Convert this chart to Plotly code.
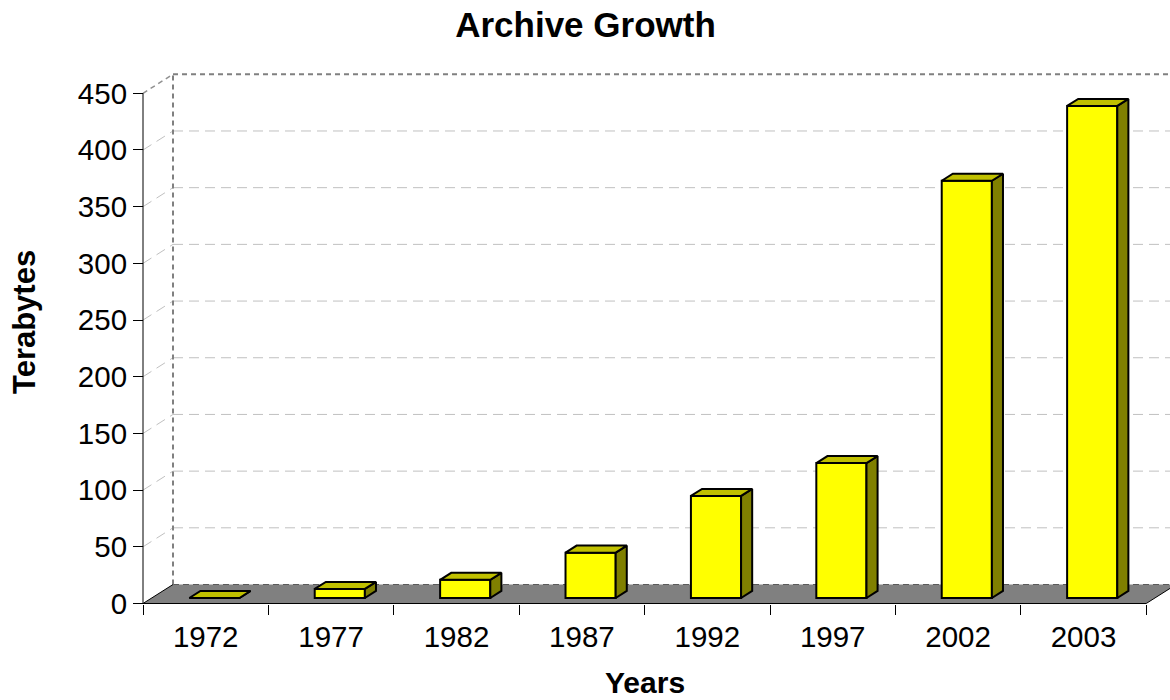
import plotly.graph_objects as go

# ---------------- data ----------------
years = ["1972", "1977", "1982", "1987", "1992", "1997", "2002", "2003"]
terabytes = [0, 8, 16, 40, 90, 119, 368, 434]
y_ticks = [0, 50, 100, 150, 200, 250, 300, 350, 400, 450]

# ---------------- geometry ----------------
W, H = 1170, 700
ML, MR, MT, MB = 130, 0, 60, 80
PW, PH = W - ML - MR, H - MT - MB
PX_CAT, PX_UNIT = 125.4, 1.1338          # pixels per category / per terabyte
X0_PX, Y0_PX = 143, 603.5                # pixel position of the data origin
xmin = -(X0_PX - ML) / PX_CAT
xmax = xmin + PW / PX_CAT
ymin = -((H - MB) - Y0_PX) / PX_UNIT
ymax = ymin + PH / PX_UNIT
DX, DY = 30 / PX_CAT, 19 / PX_UNIT       # full depth of the floor in data units
D0, D1 = 0.29, 0.66                      # bar depth span (fraction of floor depth)
GAP, BW = 0.3, 0.4

n = len(years)
top_v = y_ticks[-1]
FONT = "Liberation Sans, Arial, sans-serif"


def paper_x(px):
    return (px - ML) / PW


def paper_y(py):
    return ((H - MB) - py) / PH


shapes = []
# floor
shapes.append(dict(type="path", xref="x", yref="y", layer="below",
                   path=f"M 0,0 L {n},0 L {n+DX},{DY} L {DX},{DY} Z",
                   fillcolor="#808080", line=dict(width=0)))
# floor back edge
shapes.append(dict(type="line", xref="x", yref="y", layer="below",
                   x0=DX, y0=DY, x1=n + DX, y1=DY,
                   line=dict(color="#5a5a5a", width=1, dash="6px,4px")))
# gridlines on back wall + left wall diagonals
for v in y_ticks[1:-1]:
    shapes.append(dict(type="line", xref="x", yref="y", layer="below",
                       x0=DX, y0=v + DY, x1=n + DX, y1=v + DY,
                       line=dict(color="#c0c0c0", width=1, dash="10px,6px")))
    shapes.append(dict(type="line", xref="x", yref="y", layer="below",
                       x0=0, y0=v, x1=DX, y1=v + DY,
                       line=dict(color="#c0c0c0", width=1, dash="10px,6px")))
# wall edges
shapes.append(dict(type="line", xref="x", yref="y", layer="below",
                   x0=DX, y0=top_v + DY, x1=n + DX, y1=top_v + DY,
                   line=dict(color="#808080", width=2, dash="5px,4px")))
shapes.append(dict(type="line", xref="x", yref="y", layer="below",
                   x0=DX, y0=DY, x1=DX, y1=top_v + DY,
                   line=dict(color="#808080", width=2, dash="5px,4px")))
shapes.append(dict(type="line", xref="x", yref="y", layer="below",
                   x0=0, y0=top_v, x1=DX, y1=top_v + DY,
                   line=dict(color="#909090", width=1.5, dash="5px,4px")))
# front axis lines and floor side edges
shapes.append(dict(type="line", xref="x", yref="y", layer="below",
                   x0=0, y0=0, x1=0, y1=top_v, line=dict(color="black", width=1)))
shapes.append(dict(type="line", xref="x", yref="y", layer="below",
                   x0=0, y0=0, x1=n, y1=0, line=dict(color="black", width=1)))
shapes.append(dict(type="line", xref="x", yref="y", layer="below",
                   x0=0, y0=0, x1=DX, y1=DY, line=dict(color="black", width=1)))
shapes.append(dict(type="line", xref="x", yref="y", layer="below",
                   x0=n, y0=0, x1=n + DX, y1=DY, line=dict(color="black", width=1)))

# ---------------- bars ----------------
fx0 = [i + GAP + D0 * DX for i in range(n)]
base = D0 * DY
ddx, ddy = (D1 - D0) * DX, (D1 - D0) * DY

fig = go.Figure()
fig.add_trace(go.Bar(
    x=[x + BW / 2 for x in fx0], y=terabytes, base=base, width=BW,
    marker=dict(color="#ffff00", line=dict(color="black", width=2)),
    hoverinfo="skip", showlegend=False))

top_x, top_y, side_x, side_y = [], [], [], []
for x0, v in zip(fx0, terabytes):
    x1 = x0 + BW
    yt = base + v
    top_x += [x0, x1, x1 + ddx, x0 + ddx, x0, None]
    top_y += [yt, yt, yt + ddy, yt + ddy, yt, None]
    side_x += [x1, x1, x1 + ddx, x1 + ddx, x1, None]
    side_y += [base, yt, yt + ddy, base + ddy, base, None]

fig.add_trace(go.Scatter(x=side_x, y=side_y, mode="lines", fill="toself",
                         fillcolor="#808000", line=dict(color="black", width=2),
                         hoverinfo="skip", showlegend=False))
fig.add_trace(go.Scatter(x=top_x, y=top_y, mode="lines", fill="toself",
                         fillcolor="#c0c000", line=dict(color="black", width=2),
                         hoverinfo="skip", showlegend=False))

# ---------------- layout ----------------
fig.update_layout(
    template="none",
    width=W, height=H,
    margin=dict(l=ML, r=MR, t=MT, b=MB, autoexpand=False),
    paper_bgcolor="white", plot_bgcolor="white",
    font=dict(family=FONT, color="black"),
    title=dict(text="Archive Growth", x=585.5 / W, xref="container",
               xanchor="center", y=1 - 25 / H, yref="container",
               yanchor="middle", automargin=False,
               font=dict(size=35, weight="bold", family=FONT, color="black")),
    shapes=shapes,
    bargap=0,
    xaxis=dict(range=[xmin, xmax], anchor="free", automargin=False,
               position=(0 - ymin) / (ymax - ymin),
               tickmode="array", tickvals=[i + 0.5 for i in range(n)], ticktext=years,
               ticks="", showgrid=False, zeroline=False, showline=False,
               tickfont=dict(size=29.5, family=FONT, color="black"),
               ticklabelstandoff=13,
               minor=dict(tickmode="array", tickvals=list(range(n + 1)), ticks="outside",
                          ticklen=10, tickwidth=1, tickcolor="black", showgrid=False),
               fixedrange=True),
    yaxis=dict(range=[ymin, ymax], anchor="free", automargin=False,
               position=(0 - xmin) / (xmax - xmin),
               tickmode="array", tickvals=y_ticks,
               ticks="outside", ticklen=10, tickwidth=1, tickcolor="black",
               showgrid=False, zeroline=False, showline=False,
               tickfont=dict(size=29.5, family=FONT, color="black"),
               fixedrange=True),
    annotations=[
        dict(text="Years", xref="paper", yref="paper",
             x=paper_x(645), y=paper_y(682),
             xanchor="center", yanchor="middle", showarrow=False,
             font=dict(size=30, weight="bold", family=FONT, color="black")),
        dict(text="Terabytes", xref="paper", yref="paper", textangle=-90,
             x=paper_x(24), y=paper_y(322),
             xanchor="center", yanchor="middle", showarrow=False,
             font=dict(size=31, weight="bold", family=FONT, color="black")),
    ],
)

fig.write_html("out.html",
               config={"displayModeBar": False, "staticPlot": True},
               post_script="document.body.style.margin='0px';")
